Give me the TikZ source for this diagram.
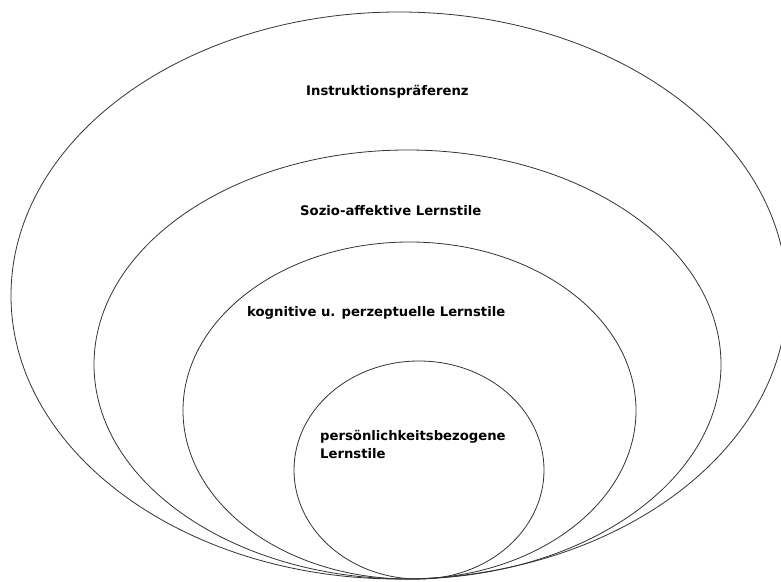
\documentclass[tikz,border=0pt]{standalone}
\usepackage{fontspec}
\setmainfont{DejaVu Sans}
\begin{document}
\begin{tikzpicture}[x=1pt,y=-1pt,
  ring/.style={draw=black!80,line width=0.8pt},
  label/.style={anchor=west,inner sep=0pt,font=\fontsize{13.2}{18}\selectfont\bfseries,text=black}]
  % canvas
  \clip (0,0) rectangle (781,581);
  \useasboundingbox (0,0) rectangle (781,581);
  % nested layers, all resting on the same bottom line
  \draw[ring] (399,295.5) ellipse [x radius=388, y radius=283.5];
  \draw[ring] (407.5,364.5) ellipse [x radius=313.5, y radius=214.5];
  \draw[ring] (409.5,410.5) ellipse [x radius=226.5, y radius=168.5];
  \draw[ring] (419,470) ellipse [x radius=125, y radius=109];
  % layer captions
  \node[label] (instr) at (306,92) {Instruktionspräferenz};
  \node[label] (sozio) at (300,211) {Sozio-affektive Lernstile};
  \node[label] (kogn) at (247,313) {kognitive u. perzeptuelle Lernstile};
  \node[label,align=left,anchor=north west] (pers) at (320,430)
    {persönlichkeitsbezogene\\Lernstile};
\end{tikzpicture}
\end{document}
